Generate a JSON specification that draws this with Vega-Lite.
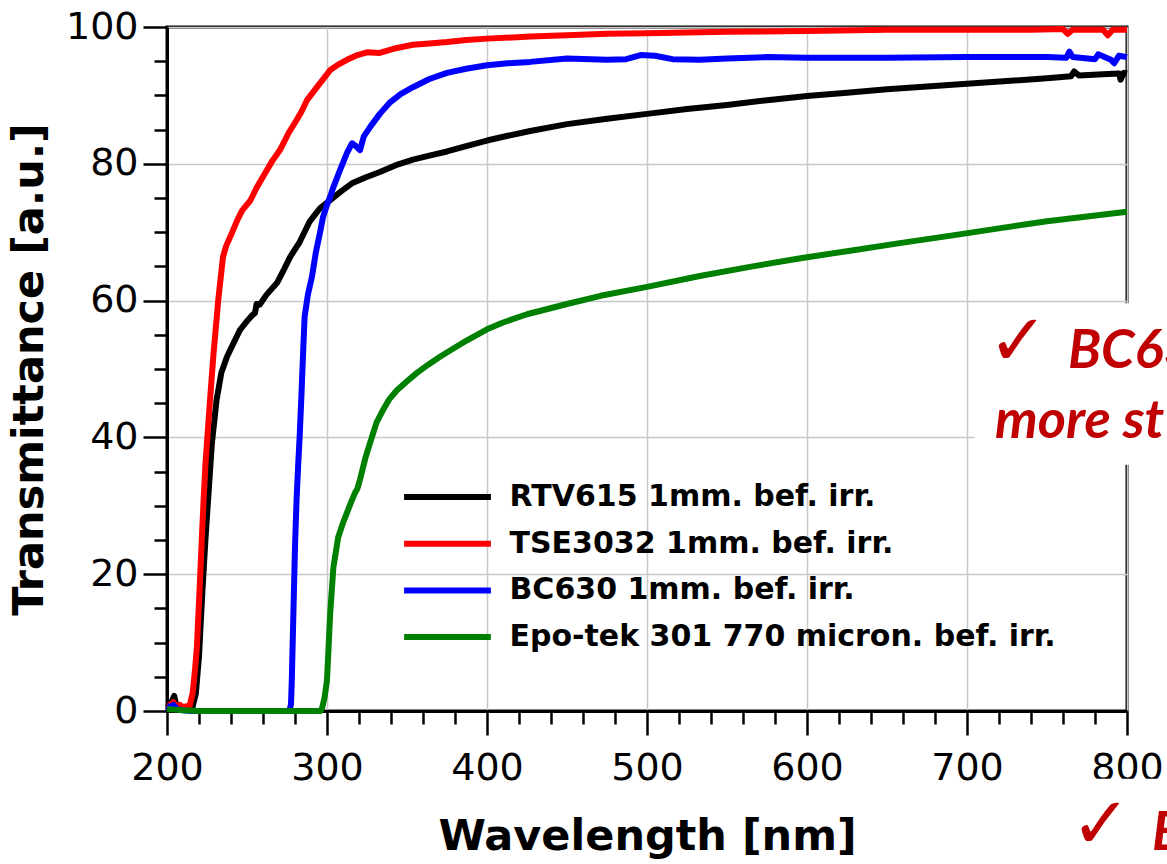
{
  "$schema": "https://vega.github.io/schema/vega-lite/v6.json",
  "width": 960,
  "height": 684,
  "autosize": {"type": "none"},
  "padding": {"left": 167, "top": 27, "right": 40, "bottom": 153},
  "background": "white",
  "config": {
    "view": {"stroke": "black", "strokeWidth": 3},
    "axis": {"labelFont": "DejaVu Sans", "titleFont": "DejaVu Sans", "labelColor": "black", "titleColor": "black", "labelFlush": false, "labelOverlap": false}
  },
  "datasets": {
    "spectra": [
      {"sample":"RTV615 1mm. bef. irr.","wavelength":200,"transmittance":0.5},
      {"sample":"RTV615 1mm. bef. irr.","wavelength":202,"transmittance":0.9},
      {"sample":"RTV615 1mm. bef. irr.","wavelength":204.5,"transmittance":2.2},
      {"sample":"RTV615 1mm. bef. irr.","wavelength":206,"transmittance":0.6},
      {"sample":"RTV615 1mm. bef. irr.","wavelength":208,"transmittance":0.4},
      {"sample":"RTV615 1mm. bef. irr.","wavelength":210,"transmittance":0.6},
      {"sample":"RTV615 1mm. bef. irr.","wavelength":212,"transmittance":0.3},
      {"sample":"RTV615 1mm. bef. irr.","wavelength":214,"transmittance":0.4},
      {"sample":"RTV615 1mm. bef. irr.","wavelength":216,"transmittance":0.6},
      {"sample":"RTV615 1mm. bef. irr.","wavelength":218,"transmittance":2.5},
      {"sample":"RTV615 1mm. bef. irr.","wavelength":220,"transmittance":8},
      {"sample":"RTV615 1mm. bef. irr.","wavelength":222,"transmittance":17},
      {"sample":"RTV615 1mm. bef. irr.","wavelength":224,"transmittance":25},
      {"sample":"RTV615 1mm. bef. irr.","wavelength":226,"transmittance":32},
      {"sample":"RTV615 1mm. bef. irr.","wavelength":228,"transmittance":39},
      {"sample":"RTV615 1mm. bef. irr.","wavelength":231,"transmittance":45.5},
      {"sample":"RTV615 1mm. bef. irr.","wavelength":234,"transmittance":49.5},
      {"sample":"RTV615 1mm. bef. irr.","wavelength":237.5,"transmittance":51.8},
      {"sample":"RTV615 1mm. bef. irr.","wavelength":241,"transmittance":53.5},
      {"sample":"RTV615 1mm. bef. irr.","wavelength":245.6,"transmittance":55.7},
      {"sample":"RTV615 1mm. bef. irr.","wavelength":250,"transmittance":57},
      {"sample":"RTV615 1mm. bef. irr.","wavelength":253,"transmittance":57.8},
      {"sample":"RTV615 1mm. bef. irr.","wavelength":255,"transmittance":58.2},
      {"sample":"RTV615 1mm. bef. irr.","wavelength":256,"transmittance":59.5},
      {"sample":"RTV615 1mm. bef. irr.","wavelength":258,"transmittance":59.4},
      {"sample":"RTV615 1mm. bef. irr.","wavelength":262,"transmittance":60.8},
      {"sample":"RTV615 1mm. bef. irr.","wavelength":268.8,"transmittance":62.6},
      {"sample":"RTV615 1mm. bef. irr.","wavelength":273,"transmittance":64.5},
      {"sample":"RTV615 1mm. bef. irr.","wavelength":277,"transmittance":66.4},
      {"sample":"RTV615 1mm. bef. irr.","wavelength":283,"transmittance":68.6},
      {"sample":"RTV615 1mm. bef. irr.","wavelength":289,"transmittance":71.5},
      {"sample":"RTV615 1mm. bef. irr.","wavelength":295.6,"transmittance":73.5},
      {"sample":"RTV615 1mm. bef. irr.","wavelength":302,"transmittance":74.7},
      {"sample":"RTV615 1mm. bef. irr.","wavelength":309,"transmittance":76},
      {"sample":"RTV615 1mm. bef. irr.","wavelength":316,"transmittance":77.2},
      {"sample":"RTV615 1mm. bef. irr.","wavelength":324,"transmittance":78},
      {"sample":"RTV615 1mm. bef. irr.","wavelength":333,"transmittance":78.8},
      {"sample":"RTV615 1mm. bef. irr.","wavelength":343,"transmittance":79.8},
      {"sample":"RTV615 1mm. bef. irr.","wavelength":353.7,"transmittance":80.6},
      {"sample":"RTV615 1mm. bef. irr.","wavelength":364,"transmittance":81.2},
      {"sample":"RTV615 1mm. bef. irr.","wavelength":375,"transmittance":81.8},
      {"sample":"RTV615 1mm. bef. irr.","wavelength":387,"transmittance":82.6},
      {"sample":"RTV615 1mm. bef. irr.","wavelength":400,"transmittance":83.4},
      {"sample":"RTV615 1mm. bef. irr.","wavelength":413,"transmittance":84.1},
      {"sample":"RTV615 1mm. bef. irr.","wavelength":427,"transmittance":84.8},
      {"sample":"RTV615 1mm. bef. irr.","wavelength":450,"transmittance":85.8},
      {"sample":"RTV615 1mm. bef. irr.","wavelength":475,"transmittance":86.6},
      {"sample":"RTV615 1mm. bef. irr.","wavelength":500,"transmittance":87.3},
      {"sample":"RTV615 1mm. bef. irr.","wavelength":525,"transmittance":88.0},
      {"sample":"RTV615 1mm. bef. irr.","wavelength":550,"transmittance":88.6},
      {"sample":"RTV615 1mm. bef. irr.","wavelength":575,"transmittance":89.3},
      {"sample":"RTV615 1mm. bef. irr.","wavelength":600,"transmittance":89.9},
      {"sample":"RTV615 1mm. bef. irr.","wavelength":625,"transmittance":90.4},
      {"sample":"RTV615 1mm. bef. irr.","wavelength":650,"transmittance":90.9},
      {"sample":"RTV615 1mm. bef. irr.","wavelength":675,"transmittance":91.3},
      {"sample":"RTV615 1mm. bef. irr.","wavelength":700,"transmittance":91.7},
      {"sample":"RTV615 1mm. bef. irr.","wavelength":725,"transmittance":92.1},
      {"sample":"RTV615 1mm. bef. irr.","wavelength":750,"transmittance":92.5},
      {"sample":"RTV615 1mm. bef. irr.","wavelength":765,"transmittance":92.8},
      {"sample":"RTV615 1mm. bef. irr.","wavelength":767,"transmittance":93.5},
      {"sample":"RTV615 1mm. bef. irr.","wavelength":770,"transmittance":92.9},
      {"sample":"RTV615 1mm. bef. irr.","wavelength":785,"transmittance":93.1},
      {"sample":"RTV615 1mm. bef. irr.","wavelength":795,"transmittance":93.2},
      {"sample":"RTV615 1mm. bef. irr.","wavelength":796,"transmittance":92.3},
      {"sample":"RTV615 1mm. bef. irr.","wavelength":798,"transmittance":93.3},
      {"sample":"RTV615 1mm. bef. irr.","wavelength":800,"transmittance":93.2},

      {"sample":"TSE3032 1mm. bef. irr.","wavelength":200,"transmittance":1.0},
      {"sample":"TSE3032 1mm. bef. irr.","wavelength":202,"transmittance":0.8},
      {"sample":"TSE3032 1mm. bef. irr.","wavelength":204,"transmittance":1.3},
      {"sample":"TSE3032 1mm. bef. irr.","wavelength":206,"transmittance":0.6},
      {"sample":"TSE3032 1mm. bef. irr.","wavelength":208,"transmittance":0.9},
      {"sample":"TSE3032 1mm. bef. irr.","wavelength":210,"transmittance":0.5},
      {"sample":"TSE3032 1mm. bef. irr.","wavelength":212,"transmittance":0.7},
      {"sample":"TSE3032 1mm. bef. irr.","wavelength":214,"transmittance":0.6},
      {"sample":"TSE3032 1mm. bef. irr.","wavelength":216,"transmittance":2.6},
      {"sample":"TSE3032 1mm. bef. irr.","wavelength":217.5,"transmittance":6},
      {"sample":"TSE3032 1mm. bef. irr.","wavelength":218.7,"transmittance":9.4},
      {"sample":"TSE3032 1mm. bef. irr.","wavelength":220.6,"transmittance":19},
      {"sample":"TSE3032 1mm. bef. irr.","wavelength":222.5,"transmittance":29},
      {"sample":"TSE3032 1mm. bef. irr.","wavelength":224,"transmittance":36},
      {"sample":"TSE3032 1mm. bef. irr.","wavelength":226.9,"transmittance":45.5},
      {"sample":"TSE3032 1mm. bef. irr.","wavelength":229,"transmittance":52},
      {"sample":"TSE3032 1mm. bef. irr.","wavelength":232,"transmittance":60},
      {"sample":"TSE3032 1mm. bef. irr.","wavelength":235,"transmittance":66.4},
      {"sample":"TSE3032 1mm. bef. irr.","wavelength":237,"transmittance":68},
      {"sample":"TSE3032 1mm. bef. irr.","wavelength":240.6,"transmittance":69.9},
      {"sample":"TSE3032 1mm. bef. irr.","wavelength":244,"transmittance":71.8},
      {"sample":"TSE3032 1mm. bef. irr.","wavelength":247,"transmittance":73.2},
      {"sample":"TSE3032 1mm. bef. irr.","wavelength":252,"transmittance":74.6},
      {"sample":"TSE3032 1mm. bef. irr.","wavelength":256,"transmittance":76.5},
      {"sample":"TSE3032 1mm. bef. irr.","wavelength":261,"transmittance":78.5},
      {"sample":"TSE3032 1mm. bef. irr.","wavelength":266,"transmittance":80.5},
      {"sample":"TSE3032 1mm. bef. irr.","wavelength":270.6,"transmittance":82},
      {"sample":"TSE3032 1mm. bef. irr.","wavelength":276,"transmittance":84.5},
      {"sample":"TSE3032 1mm. bef. irr.","wavelength":281,"transmittance":86.4},
      {"sample":"TSE3032 1mm. bef. irr.","wavelength":284,"transmittance":87.6},
      {"sample":"TSE3032 1mm. bef. irr.","wavelength":287.5,"transmittance":89.3},
      {"sample":"TSE3032 1mm. bef. irr.","wavelength":293.7,"transmittance":91.2},
      {"sample":"TSE3032 1mm. bef. irr.","wavelength":298,"transmittance":92.5},
      {"sample":"TSE3032 1mm. bef. irr.","wavelength":302,"transmittance":93.7},
      {"sample":"TSE3032 1mm. bef. irr.","wavelength":307,"transmittance":94.5},
      {"sample":"TSE3032 1mm. bef. irr.","wavelength":312.5,"transmittance":95.2},
      {"sample":"TSE3032 1mm. bef. irr.","wavelength":318,"transmittance":95.8},
      {"sample":"TSE3032 1mm. bef. irr.","wavelength":325,"transmittance":96.3},
      {"sample":"TSE3032 1mm. bef. irr.","wavelength":333,"transmittance":96.2},
      {"sample":"TSE3032 1mm. bef. irr.","wavelength":343,"transmittance":96.9},
      {"sample":"TSE3032 1mm. bef. irr.","wavelength":353.7,"transmittance":97.4},
      {"sample":"TSE3032 1mm. bef. irr.","wavelength":364,"transmittance":97.6},
      {"sample":"TSE3032 1mm. bef. irr.","wavelength":375,"transmittance":97.8},
      {"sample":"TSE3032 1mm. bef. irr.","wavelength":387,"transmittance":98.1},
      {"sample":"TSE3032 1mm. bef. irr.","wavelength":400,"transmittance":98.3},
      {"sample":"TSE3032 1mm. bef. irr.","wavelength":427,"transmittance":98.6},
      {"sample":"TSE3032 1mm. bef. irr.","wavelength":450,"transmittance":98.8},
      {"sample":"TSE3032 1mm. bef. irr.","wavelength":475,"transmittance":99.0},
      {"sample":"TSE3032 1mm. bef. irr.","wavelength":500,"transmittance":99.1},
      {"sample":"TSE3032 1mm. bef. irr.","wavelength":550,"transmittance":99.3},
      {"sample":"TSE3032 1mm. bef. irr.","wavelength":600,"transmittance":99.4},
      {"sample":"TSE3032 1mm. bef. irr.","wavelength":650,"transmittance":99.6},
      {"sample":"TSE3032 1mm. bef. irr.","wavelength":700,"transmittance":99.6},
      {"sample":"TSE3032 1mm. bef. irr.","wavelength":740,"transmittance":99.6},
      {"sample":"TSE3032 1mm. bef. irr.","wavelength":760,"transmittance":99.7},
      {"sample":"TSE3032 1mm. bef. irr.","wavelength":763,"transmittance":99.0},
      {"sample":"TSE3032 1mm. bef. irr.","wavelength":766,"transmittance":99.6},
      {"sample":"TSE3032 1mm. bef. irr.","wavelength":785,"transmittance":99.6},
      {"sample":"TSE3032 1mm. bef. irr.","wavelength":788,"transmittance":98.8},
      {"sample":"TSE3032 1mm. bef. irr.","wavelength":791,"transmittance":99.6},
      {"sample":"TSE3032 1mm. bef. irr.","wavelength":800,"transmittance":99.6},

      {"sample":"BC630 1mm. bef. irr.","wavelength":200,"transmittance":0.8},
      {"sample":"BC630 1mm. bef. irr.","wavelength":202,"transmittance":0.5},
      {"sample":"BC630 1mm. bef. irr.","wavelength":204,"transmittance":0.9},
      {"sample":"BC630 1mm. bef. irr.","wavelength":206,"transmittance":0.3},
      {"sample":"BC630 1mm. bef. irr.","wavelength":210,"transmittance":0.1},
      {"sample":"BC630 1mm. bef. irr.","wavelength":215,"transmittance":0},
      {"sample":"BC630 1mm. bef. irr.","wavelength":250,"transmittance":0},
      {"sample":"BC630 1mm. bef. irr.","wavelength":276.5,"transmittance":0},
      {"sample":"BC630 1mm. bef. irr.","wavelength":277.5,"transmittance":1},
      {"sample":"BC630 1mm. bef. irr.","wavelength":278,"transmittance":4.5},
      {"sample":"BC630 1mm. bef. irr.","wavelength":279,"transmittance":14.3},
      {"sample":"BC630 1mm. bef. irr.","wavelength":280,"transmittance":24},
      {"sample":"BC630 1mm. bef. irr.","wavelength":281,"transmittance":31},
      {"sample":"BC630 1mm. bef. irr.","wavelength":282,"transmittance":36},
      {"sample":"BC630 1mm. bef. irr.","wavelength":283,"transmittance":40.6},
      {"sample":"BC630 1mm. bef. irr.","wavelength":284,"transmittance":46},
      {"sample":"BC630 1mm. bef. irr.","wavelength":285,"transmittance":52},
      {"sample":"BC630 1mm. bef. irr.","wavelength":286,"transmittance":57.6},
      {"sample":"BC630 1mm. bef. irr.","wavelength":288,"transmittance":60.8},
      {"sample":"BC630 1mm. bef. irr.","wavelength":290.6,"transmittance":63.5},
      {"sample":"BC630 1mm. bef. irr.","wavelength":293,"transmittance":67},
      {"sample":"BC630 1mm. bef. irr.","wavelength":295.6,"transmittance":69.9},
      {"sample":"BC630 1mm. bef. irr.","wavelength":297.5,"transmittance":72.2},
      {"sample":"BC630 1mm. bef. irr.","wavelength":300,"transmittance":74},
      {"sample":"BC630 1mm. bef. irr.","wavelength":302,"transmittance":75.2},
      {"sample":"BC630 1mm. bef. irr.","wavelength":304,"transmittance":76.6},
      {"sample":"BC630 1mm. bef. irr.","wavelength":308,"transmittance":79},
      {"sample":"BC630 1mm. bef. irr.","wavelength":312.5,"transmittance":81.6},
      {"sample":"BC630 1mm. bef. irr.","wavelength":315.6,"transmittance":83},
      {"sample":"BC630 1mm. bef. irr.","wavelength":318,"transmittance":82.6},
      {"sample":"BC630 1mm. bef. irr.","wavelength":320.6,"transmittance":82},
      {"sample":"BC630 1mm. bef. irr.","wavelength":323,"transmittance":84},
      {"sample":"BC630 1mm. bef. irr.","wavelength":327,"transmittance":85.4},
      {"sample":"BC630 1mm. bef. irr.","wavelength":333,"transmittance":87.3},
      {"sample":"BC630 1mm. bef. irr.","wavelength":339,"transmittance":88.9},
      {"sample":"BC630 1mm. bef. irr.","wavelength":346,"transmittance":90.2},
      {"sample":"BC630 1mm. bef. irr.","wavelength":353.7,"transmittance":91.2},
      {"sample":"BC630 1mm. bef. irr.","wavelength":364,"transmittance":92.4},
      {"sample":"BC630 1mm. bef. irr.","wavelength":375,"transmittance":93.3},
      {"sample":"BC630 1mm. bef. irr.","wavelength":387,"transmittance":93.9},
      {"sample":"BC630 1mm. bef. irr.","wavelength":400,"transmittance":94.4},
      {"sample":"BC630 1mm. bef. irr.","wavelength":413,"transmittance":94.7},
      {"sample":"BC630 1mm. bef. irr.","wavelength":427,"transmittance":94.9},
      {"sample":"BC630 1mm. bef. irr.","wavelength":450,"transmittance":95.4},
      {"sample":"BC630 1mm. bef. irr.","wavelength":475,"transmittance":95.2},
      {"sample":"BC630 1mm. bef. irr.","wavelength":487,"transmittance":95.3},
      {"sample":"BC630 1mm. bef. irr.","wavelength":496,"transmittance":95.9},
      {"sample":"BC630 1mm. bef. irr.","wavelength":505,"transmittance":95.8},
      {"sample":"BC630 1mm. bef. irr.","wavelength":516,"transmittance":95.3},
      {"sample":"BC630 1mm. bef. irr.","wavelength":533,"transmittance":95.2},
      {"sample":"BC630 1mm. bef. irr.","wavelength":550,"transmittance":95.4},
      {"sample":"BC630 1mm. bef. irr.","wavelength":575,"transmittance":95.6},
      {"sample":"BC630 1mm. bef. irr.","wavelength":600,"transmittance":95.5},
      {"sample":"BC630 1mm. bef. irr.","wavelength":650,"transmittance":95.5},
      {"sample":"BC630 1mm. bef. irr.","wavelength":700,"transmittance":95.6},
      {"sample":"BC630 1mm. bef. irr.","wavelength":750,"transmittance":95.6},
      {"sample":"BC630 1mm. bef. irr.","wavelength":762,"transmittance":95.5},
      {"sample":"BC630 1mm. bef. irr.","wavelength":764,"transmittance":96.4},
      {"sample":"BC630 1mm. bef. irr.","wavelength":766,"transmittance":95.6},
      {"sample":"BC630 1mm. bef. irr.","wavelength":780,"transmittance":95.3},
      {"sample":"BC630 1mm. bef. irr.","wavelength":782,"transmittance":96},
      {"sample":"BC630 1mm. bef. irr.","wavelength":790,"transmittance":95.2},
      {"sample":"BC630 1mm. bef. irr.","wavelength":792,"transmittance":94.7},
      {"sample":"BC630 1mm. bef. irr.","wavelength":795,"transmittance":95.8},
      {"sample":"BC630 1mm. bef. irr.","wavelength":800,"transmittance":95.6},

      {"sample":"Epo-tek 301 770 micron. bef. irr.","wavelength":200,"transmittance":0.3},
      {"sample":"Epo-tek 301 770 micron. bef. irr.","wavelength":205,"transmittance":0.2},
      {"sample":"Epo-tek 301 770 micron. bef. irr.","wavelength":210,"transmittance":0.1},
      {"sample":"Epo-tek 301 770 micron. bef. irr.","wavelength":220,"transmittance":0},
      {"sample":"Epo-tek 301 770 micron. bef. irr.","wavelength":296,"transmittance":0},
      {"sample":"Epo-tek 301 770 micron. bef. irr.","wavelength":297,"transmittance":0.5},
      {"sample":"Epo-tek 301 770 micron. bef. irr.","wavelength":298.5,"transmittance":2},
      {"sample":"Epo-tek 301 770 micron. bef. irr.","wavelength":300,"transmittance":4.5},
      {"sample":"Epo-tek 301 770 micron. bef. irr.","wavelength":302,"transmittance":14.3},
      {"sample":"Epo-tek 301 770 micron. bef. irr.","wavelength":304,"transmittance":21},
      {"sample":"Epo-tek 301 770 micron. bef. irr.","wavelength":307,"transmittance":25.4},
      {"sample":"Epo-tek 301 770 micron. bef. irr.","wavelength":310,"transmittance":27.5},
      {"sample":"Epo-tek 301 770 micron. bef. irr.","wavelength":312.5,"transmittance":29},
      {"sample":"Epo-tek 301 770 micron. bef. irr.","wavelength":315,"transmittance":30.5},
      {"sample":"Epo-tek 301 770 micron. bef. irr.","wavelength":317.5,"transmittance":31.9},
      {"sample":"Epo-tek 301 770 micron. bef. irr.","wavelength":319,"transmittance":32.5},
      {"sample":"Epo-tek 301 770 micron. bef. irr.","wavelength":320.6,"transmittance":33.8},
      {"sample":"Epo-tek 301 770 micron. bef. irr.","wavelength":324,"transmittance":37},
      {"sample":"Epo-tek 301 770 micron. bef. irr.","wavelength":328,"transmittance":40},
      {"sample":"Epo-tek 301 770 micron. bef. irr.","wavelength":331,"transmittance":42.2},
      {"sample":"Epo-tek 301 770 micron. bef. irr.","wavelength":335,"transmittance":44},
      {"sample":"Epo-tek 301 770 micron. bef. irr.","wavelength":339,"transmittance":45.6},
      {"sample":"Epo-tek 301 770 micron. bef. irr.","wavelength":343.7,"transmittance":46.9},
      {"sample":"Epo-tek 301 770 micron. bef. irr.","wavelength":350,"transmittance":48.2},
      {"sample":"Epo-tek 301 770 micron. bef. irr.","wavelength":356,"transmittance":49.4},
      {"sample":"Epo-tek 301 770 micron. bef. irr.","wavelength":363,"transmittance":50.6},
      {"sample":"Epo-tek 301 770 micron. bef. irr.","wavelength":370.6,"transmittance":51.8},
      {"sample":"Epo-tek 301 770 micron. bef. irr.","wavelength":379,"transmittance":53},
      {"sample":"Epo-tek 301 770 micron. bef. irr.","wavelength":387.5,"transmittance":54.2},
      {"sample":"Epo-tek 301 770 micron. bef. irr.","wavelength":400,"transmittance":55.8},
      {"sample":"Epo-tek 301 770 micron. bef. irr.","wavelength":410,"transmittance":56.8},
      {"sample":"Epo-tek 301 770 micron. bef. irr.","wavelength":425,"transmittance":58.0},
      {"sample":"Epo-tek 301 770 micron. bef. irr.","wavelength":450,"transmittance":59.5},
      {"sample":"Epo-tek 301 770 micron. bef. irr.","wavelength":471,"transmittance":60.7},
      {"sample":"Epo-tek 301 770 micron. bef. irr.","wavelength":500,"transmittance":62.0},
      {"sample":"Epo-tek 301 770 micron. bef. irr.","wavelength":533,"transmittance":63.6},
      {"sample":"Epo-tek 301 770 micron. bef. irr.","wavelength":566,"transmittance":65.0},
      {"sample":"Epo-tek 301 770 micron. bef. irr.","wavelength":596,"transmittance":66.2},
      {"sample":"Epo-tek 301 770 micron. bef. irr.","wavelength":627,"transmittance":67.3},
      {"sample":"Epo-tek 301 770 micron. bef. irr.","wavelength":658,"transmittance":68.4},
      {"sample":"Epo-tek 301 770 micron. bef. irr.","wavelength":690,"transmittance":69.5},
      {"sample":"Epo-tek 301 770 micron. bef. irr.","wavelength":721,"transmittance":70.6},
      {"sample":"Epo-tek 301 770 micron. bef. irr.","wavelength":750,"transmittance":71.6},
      {"sample":"Epo-tek 301 770 micron. bef. irr.","wavelength":775,"transmittance":72.3},
      {"sample":"Epo-tek 301 770 micron. bef. irr.","wavelength":800,"transmittance":73.0}
    ],
    "notes": [
      {"kind":"box","x":705,"x2":830,"y":36,"y2":59.6},
      {"kind":"box","x":758,"x2":830,"y":-9.9,"y2":-30},
      {"kind":"check","x":731.9,"y":53.8,"label":"✓"},
      {"kind":"check","x":783.75,"y":-16.8,"label":"✓"},
      {"kind":"word","x":763.1,"y":50.1,"label":"BC630"},
      {"kind":"word","x":717.5,"y":39.9,"label":"more st"},
      {"kind":"word","x":815.6,"y":-20.3,"label":"E"}
    ]
  },
  "layer": [
    {
      "data": {"name": "spectra"},
      "mark": {"type": "line", "strokeWidth": 6, "strokeJoin": "round", "strokeCap": "butt"},
      "encoding": {
        "x": {"field": "wavelength", "type": "quantitative",
          "scale": {"domain": [200, 800], "nice": false, "zero": false},
          "axis": {"orient": "bottom", "values": [200, 300, 400, 500, 600, 700, 800], "title": "Wavelength [nm]",
            "grid": true, "gridColor": "#c8c8c8", "gridWidth": 1.5,
            "domainColor": "black", "domainWidth": 3, "tickColor": "black", "tickWidth": 2.5, "tickSize": 24,
            "labelFontSize": 38, "labelPadding": 14, "titleFontSize": 43, "titleFontWeight": "bold", "titlePadding": 28}},
        "y": {"field": "transmittance", "type": "quantitative",
          "scale": {"domain": [0, 100], "nice": false, "zero": false},
          "axis": {"orient": "left", "values": [0, 20, 40, 60, 80, 100], "title": "Transmittance [a.u.]",
            "grid": true, "gridColor": "#c8c8c8", "gridWidth": 1.5,
            "domainColor": "black", "domainWidth": 3, "tickColor": "black", "tickWidth": 2.5, "tickSize": 24,
            "labelFontSize": 38, "labelPadding": 5, "titleFontSize": 43, "titleFontWeight": "bold", "titlePadding": 14}},
        "color": {"field": "sample", "type": "nominal",
          "scale": {"domain": ["RTV615 1mm. bef. irr.", "TSE3032 1mm. bef. irr.", "BC630 1mm. bef. irr.", "Epo-tek 301 770 micron. bef. irr."],
                    "range": ["#000000", "#ff0000", "#0000ff", "#008000"]},
          "legend": {"title": null, "orient": "none", "legendX": 265.5, "legendY": 455, "padding": 0,
            "symbolType": "M-12.4,0H12.4", "symbolSize": 49, "symbolStrokeWidth": 6,
            "labelFont": "DejaVu Sans", "labelFontWeight": "bold", "labelFontSize": 30, "labelColor": "black",
            "labelOffset": 47, "rowPadding": 16.7, "labelLimit": 0}}
      }
    },
    {
      "data": {"name": "spectra"},
      "mark": {"type": "point", "opacity": 0},
      "encoding": {
        "x": {"field": "wavelength", "type": "quantitative",
          "scale": {"domain": [200, 800], "nice": false, "zero": false},
          "axis": {"orient": "bottom", "values": [220,240,260,280,320,340,360,380,420,440,460,480,520,540,560,580,620,640,660,680,720,740,760,780],
            "labels": false, "grid": false, "domain": false, "title": null, "tickColor": "black", "tickWidth": 2.5, "tickSize": 13}},
        "y": {"field": "transmittance", "type": "quantitative",
          "scale": {"domain": [0, 100], "nice": false, "zero": false},
          "axis": {"orient": "left", "values": [5,10,15,25,30,35,45,50,55,65,70,75,85,90,95],
            "labels": false, "grid": false, "domain": false, "title": null, "tickColor": "black", "tickWidth": 2.5, "tickSize": 13}}
      }
    },
    {
      "data": {"name": "notes"},
      "transform": [{"filter": "datum.kind === 'box'"}],
      "mark": {"type": "rect", "color": "white", "opacity": 1},
      "encoding": {
        "x": {"field": "x", "type": "quantitative", "axis": null},
        "x2": {"field": "x2"},
        "y": {"field": "y", "type": "quantitative", "axis": null},
        "y2": {"field": "y2"}
      }
    },
    {
      "data": {"name": "notes"},
      "transform": [{"filter": "datum.kind === 'check'"}],
      "mark": {"type": "text", "font": "DejaVu Sans", "fontSize": 72, "fontWeight": "bold", "color": "#c00000", "align": "center", "baseline": "middle"},
      "encoding": {
        "x": {"field": "x", "type": "quantitative", "axis": null},
        "y": {"field": "y", "type": "quantitative", "axis": null},
        "text": {"field": "label"}
      }
    },
    {
      "data": {"name": "notes"},
      "transform": [{"filter": "datum.kind === 'word'"}],
      "mark": {"type": "text", "font": "Lato", "fontSize": 54, "fontWeight": "bold", "fontStyle": "italic", "color": "#c00000", "align": "left", "baseline": "alphabetic"},
      "encoding": {
        "x": {"field": "x", "type": "quantitative", "axis": null},
        "y": {"field": "y", "type": "quantitative", "axis": null},
        "text": {"field": "label"}
      }
    }
  ],
  "resolve": {"axis": {"x": "independent", "y": "independent"}}
}
